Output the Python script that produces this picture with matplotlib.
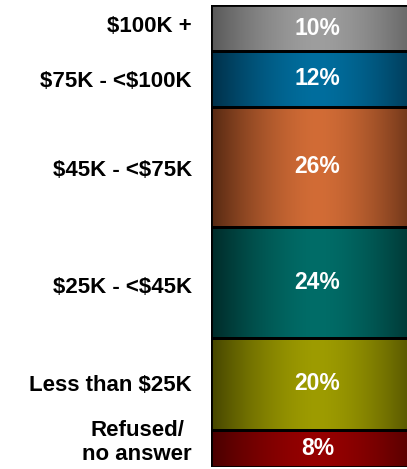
import numpy as np
import matplotlib
matplotlib.use("Agg")
import matplotlib.pyplot as plt
from matplotlib.colors import to_rgb
from matplotlib.transforms import ScaledTranslation, blended_transform_factory

categories = ["Refused/\nno answer", "Less than $25K", "$25K - <$45K",
              "$45K - <$75K", "$75K - <$100K", "$100K +"]
values = [8, 20, 24, 26, 12, 10]
center_colors = ["#960000", "#9e9c00", "#006d68", "#d26c36", "#006e9e", "#9e9e9e"]
edge_colors = ["#480000", "#454500", "#002a28", "#552812", "#002f48", "#585858"]

# baseline offset of the category labels below the segment centre (pixels)
label_drop_px = [11.5, 7, 10.5, 9.5, 8.5, 4]

plt.rcParams['font.family'] = ['Liberation Sans', 'DejaVu Sans']
plt.rcParams['text.parse_math'] = False

fig = plt.figure(figsize=(4.07, 4.69), dpi=100)
W, H = 407, 469
ax = fig.add_axes([211 / W, 1 - 467 / H, (424 - 211) / W, (467 - 5) / H])

total = sum(values)
bottoms = np.concatenate([[0], np.cumsum(values)[:-1]])

xs = np.linspace(-1, 1, 400)
prof = np.abs(xs) ** 1.6
for v, b, cc, ec in zip(values, bottoms, center_colors, edge_colors):
    c = np.array(to_rgb(cc))
    e = np.array(to_rgb(ec))
    grad = c[None, :] * (1 - prof[:, None]) + e[None, :] * prof[:, None]
    img = grad[None, :, :]
    ax.imshow(img, extent=(0, 1, b, b + v), aspect='auto', interpolation='bilinear', zorder=1)

ax.bar([0.5] * len(values), values, bottom=bottoms, width=1.0,
       facecolor='none', edgecolor='black', linewidth=2.0, zorder=2)

for v, b in zip(values, bottoms):
    ax.text(0.5, b + v / 2, f"{v}%", ha='center', va='center', color='white',
            fontsize=16.5, fontweight='bold', zorder=3)

ax.set_xlim(0, 1)
ax.set_ylim(0, total)
centers = bottoms + np.array(values) / 2
base = blended_transform_factory(ax.transAxes, ax.transData)
for cat, cy, dy in zip(categories, centers, label_drop_px):
    tr = base + ScaledTranslation(-19 / 100, -dy / 100, fig.dpi_scale_trans)
    ax.text(0, cy, cat, transform=tr, ha='right', va='baseline', multialignment='center',
            fontsize=16, fontweight='bold', color='black', clip_on=False)
ax.set_yticks([])
ax.set_xticks([])
for s in ax.spines.values():
    s.set_visible(False)

fig.savefig("out.png", dpi=100)
